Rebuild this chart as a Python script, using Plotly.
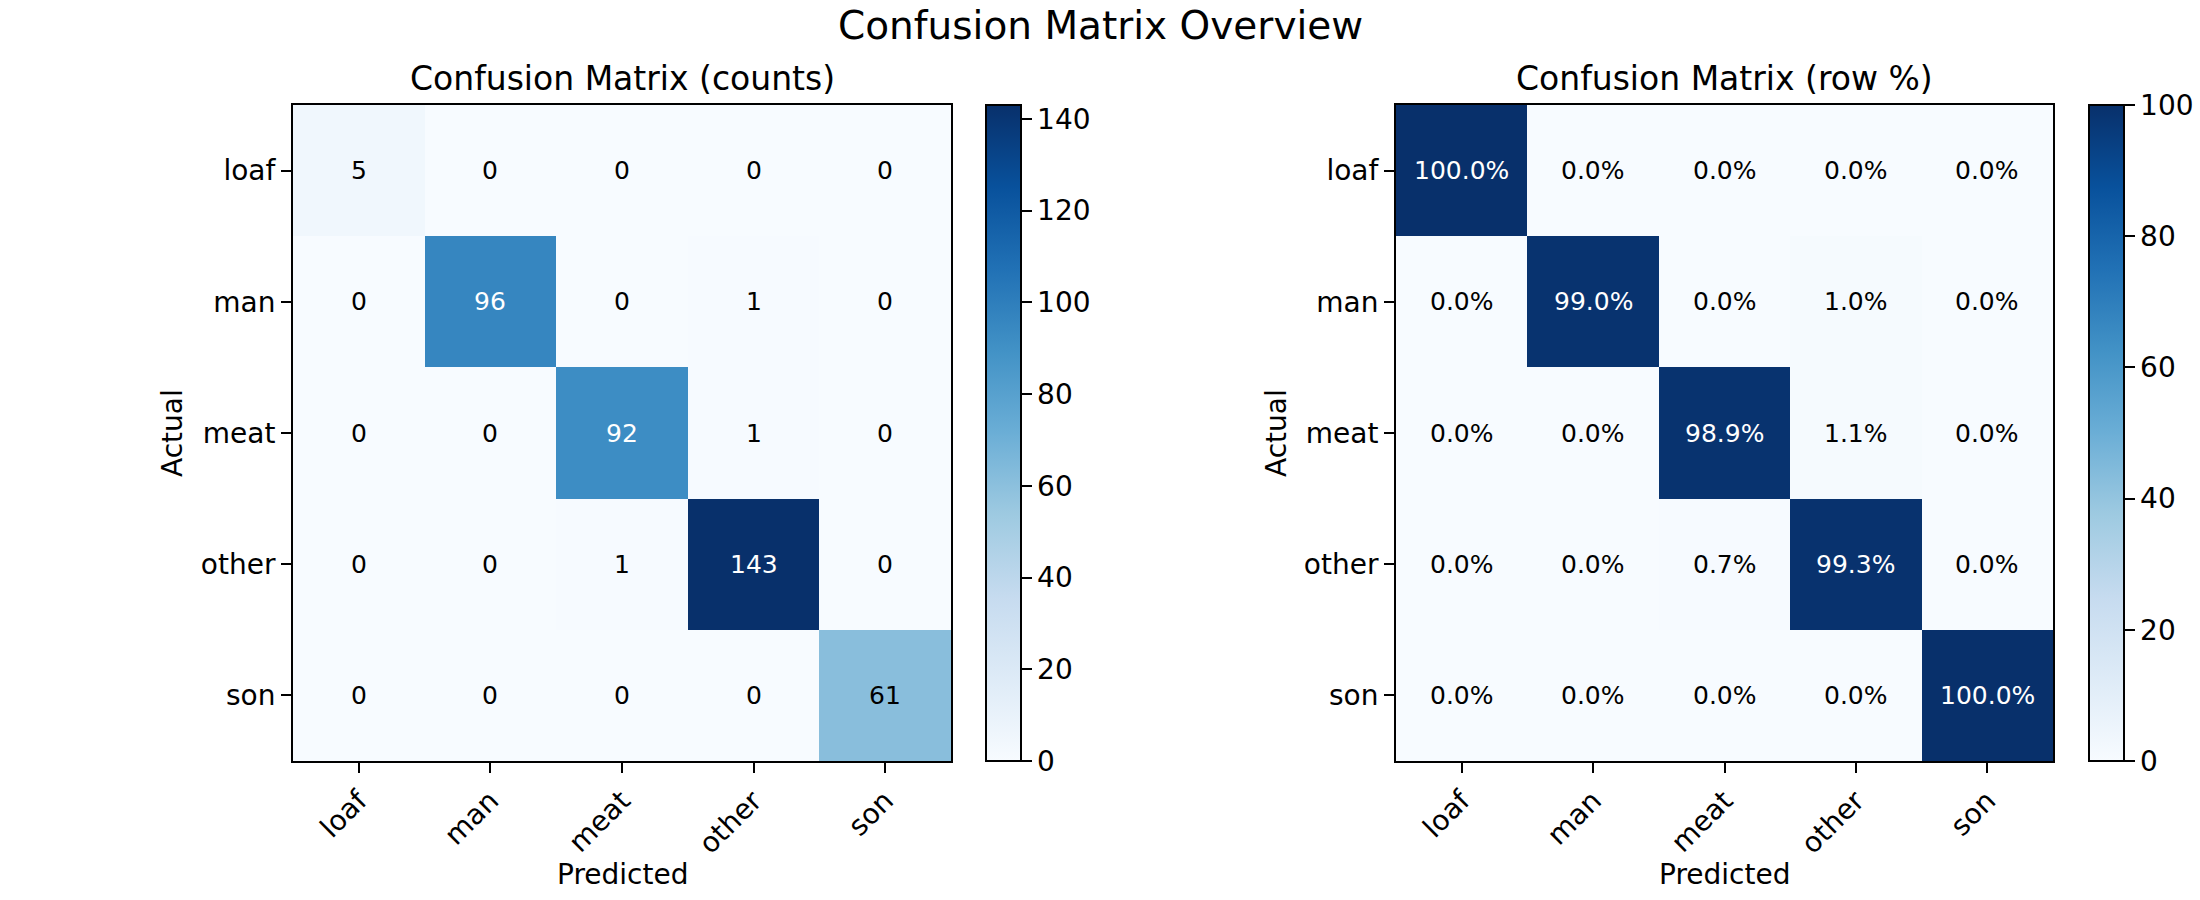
import plotly.graph_objects as go

classes = ["loaf", "man", "meat", "other", "son"]
counts = [
    [5, 0, 0, 0, 0],
    [0, 96, 0, 1, 0],
    [0, 0, 92, 1, 0],
    [0, 0, 1, 143, 0],
    [0, 0, 0, 0, 61],
]
row_pct = [
    [100.0, 0.0, 0.0, 0.0, 0.0],
    [0.0, 99.0, 0.0, 1.0, 0.0],
    [0.0, 0.0, 98.9, 1.1, 0.0],
    [0.0, 0.0, 0.7, 99.3, 0.0],
    [0.0, 0.0, 0.0, 0.0, 100.0],
]
counts_ticks = [0, 20, 40, 60, 80, 100, 120, 140]
pct_ticks = [0, 20, 40, 60, 80, 100]

blues = ["#f7fbff", "#deebf7", "#c6dbef", "#9ecae1", "#6baed6",
         "#4292c6", "#2171b5", "#08519c", "#08306b"]
cscale = [[i / (len(blues) - 1), c] for i, c in enumerate(blues)]

W, H = 2200, 900
FONT = "DejaVu Sans"

def px_x(v):
    return v / W

def px_y(v):
    return 1 - v / H

top, bot = 105, 761
ydom = [px_y(bot), px_y(top)]
x1 = [px_x(293), px_x(951)]
x2 = [px_x(1396), px_x(2053)]
cb1x, cb2x = px_x(986), px_x(2089)

fig = go.Figure()

def add_hm(z, xa, ya, cbx, zmax, ticks):
    fig.add_trace(go.Heatmap(
        z=z, x=classes, y=classes, xaxis=xa, yaxis=ya,
        colorscale=cscale, zmin=0, zmax=zmax, hoverinfo="skip",
        colorbar=dict(
            x=cbx, xanchor="left", y=(ydom[0] + ydom[1]) / 2, yanchor="middle",
            len=(bot - top) / H, lenmode="fraction", thickness=35,
            thicknessmode="pixels", xpad=0, ypad=0,
            outlinewidth=2, outlinecolor="black",
            tickvals=ticks, ticks="outside", ticklen=10, tickwidth=2,
            tickcolor="black",
            tickfont=dict(size=28, color="black", family=FONT),
        ),
    ))

add_hm(counts, "x", "y", cb1x, max(max(r) for r in counts), counts_ticks)
add_hm(row_pct, "x2", "y2", cb2x, 100, pct_ticks)

annotations = []
cmax = max(max(r) for r in counts)
for i, row in enumerate(counts):
    for j, v in enumerate(row):
        annotations.append(dict(
            x=classes[j], y=classes[i], xref="x", yref="y", text=str(v),
            showarrow=False,
            font=dict(size=25, family=FONT,
                      color="white" if v > cmax / 2 else "black")))
for i, row in enumerate(row_pct):
    for j, v in enumerate(row):
        annotations.append(dict(
            x=classes[j], y=classes[i], xref="x2", yref="y2", text=f"{v:.1f}%",
            showarrow=False,
            font=dict(size=25, family=FONT,
                      color="white" if v > 50 else "black")))

annotations.append(dict(x=px_x(1100), y=px_y(25), xref="paper", yref="paper",
                        text="Confusion Matrix Overview", showarrow=False,
                        xanchor="center", yanchor="middle", borderpad=0,
                        font=dict(size=39, family=FONT, color="black")))
for dom, t in ((x1, "Confusion Matrix (counts)"), (x2, "Confusion Matrix (row %)")):
    annotations.append(dict(x=(dom[0] + dom[1]) / 2, y=px_y(79), xref="paper",
                            yref="paper", text=t, showarrow=False,
                            xanchor="center", yanchor="middle",
                            font=dict(size=33, family=FONT, color="black")))
    annotations.append(dict(x=(dom[0] + dom[1]) / 2, y=px_y(874), xref="paper",
                            yref="paper", text="Predicted", showarrow=False,
                            xanchor="center", yanchor="middle",
                            font=dict(size=28, family=FONT, color="black")))
for xc in (173, 1277):
    annotations.append(dict(x=px_x(xc), y=(ydom[0] + ydom[1]) / 2, xref="paper",
                            yref="paper", text="Actual", showarrow=False,
                            textangle=-90, xanchor="center", yanchor="middle",
                            font=dict(size=28, family=FONT, color="black")))

axis_common = dict(showline=True, mirror=True, linecolor="black", linewidth=2,
                   ticks="outside", ticklen=10, tickwidth=2, tickcolor="black",
                   showgrid=False, zeroline=False,
                   tickfont=dict(size=28, family=FONT, color="black"))

fig.update_layout(
    width=W, height=H, margin=dict(l=0, r=0, t=0, b=0),
    paper_bgcolor="white", plot_bgcolor="white",
    font=dict(family=FONT, color="black"),
    xaxis=dict(domain=x1, anchor="y", tickangle=-45, **axis_common),
    yaxis=dict(domain=ydom, anchor="x", autorange="reversed", **axis_common),
    xaxis2=dict(domain=x2, anchor="y2", tickangle=-45, **axis_common),
    yaxis2=dict(domain=ydom, anchor="x2", autorange="reversed", **axis_common),
    annotations=annotations,
    showlegend=False,
)

fig.write_html(
    "out.html",
    config={"displayModeBar": False},
    post_script="document.body.style.margin='0';document.body.style.overflow='hidden';",
)
